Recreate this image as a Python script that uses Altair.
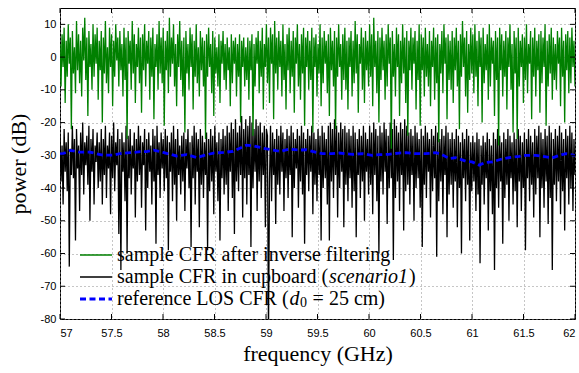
import altair as alt
import numpy as np
import pandas as pd

# ---- data ----
F_START, F_STOP = 57.0, 62.0

green_db = [
    4, -9, 7, -3, 9, -14, 5, -6, 10, -2, 6, -22, 8, -5, 3, -11, 11, -4, 7, -8,
    5, -12, 9, -1, 12, -7, 6, -18, 8, -3, 4, -10, 10, -6, 7, -2, 9, -13, 5, -4,
    8, -20, 6, -5, 11, -8, 3, -11, 9, -3, 7, -15, 5, -6, 10, -1, 6, -9, 8, -4,
    4, -12, 9, -7, 6, -25, 8, -2, 5, -10, 11, -5, 7, -14, 4, -3, 9, -8, 6, -17,
    7, -4, 10, -9, 5, -2, 8, -13, 6, -6, 9, -19, 4, -3, 7, -10, 11, -5, 6, -8,
    9, -21, 5, -4, 8, -11, 12, -6, 6, -2, 10, -9, 4, -15, 7, -3, 11, -7, 5, -12,
    6, -23, 8, -5, 4, -10, 9, -3, 7, -16, 5, -6, 10, -8, 3, -12, 8, -4, 6, -9,
    5, -25, 7, -6, 9, -3, 4, -11, 8, -18, 6, -5, 3, -9, 7, -14, 5, -2, 8, -7,
    4, -10, 6, -4, 3, -15, 7, -8, 5, -2, 6, -12, 4, -6, 7, -20, 5, -3, 6, -9,
    3, -7, 6, -13, 5, -4, 7, -24, 4, -9, 6, -2, 8, -11, 5, -6, 9, -16, 4, -3,
    10, -8, 6, -14, 9, -2, 7, -19, 11, -5, 6, -10, 8, -3, 5, -12, 10, -7, 4, -16,
    7, -4, 9, -11, 5, -6, 8, -17, 6, -2, 10, -9, 4, -13, 7, -5, 9, -21, 6, -3,
    8, -10, 5, -7, 9, -23, 6, -3, 7, -12, 4, -5, 10, -15, 6, -8, 8, -2, 5, -11,
    7, -18, 9, -4, 5, -9, 8, -22, 6, -6, 10, -3, 4, -13, 7, -7, 9, -10, 5, -16,
    6, -3, 8, -12, 5, -8, 11, -5, 7, -17, 4, -2, 9, -10, 6, -14, 8, -4, 5, -9,
    10, -6, 7, -15, 12, -3, 5, -11, 8, -20, 6, -7, 9, -4, 5, -13, 7, -9, 10, -2,
    6, -28, 8, -6, 4, -12, 9, -3, 7, -18, 5, -8, 10, -5, 6, -14, 8, -24, 5, -4,
    9, -10, 6, -2, 8, -16, 5, -7, 10, -21, 7, -4, 6, -12, 9, -6, 4, -9, 8, -15,
    5, -3, 9, -13, 6, -8, 7, -26, 4, -5, 8, -11, 10, -2, 6, -19, 7, -7, 5, -10,
    8, -14, 6, -4, 9, -9, 5, -22, 7, -6, 11, -3, 6, -12, 8, -17, 4, -7, 9, -5,
    7, -11, 10, -6, 5, -15, 8, -3, 6, -20, 9, -8, 4, -4, 7, -13, 10, -9, 6, -2,
    5, -18, 8, -7, 6, -27, 9, -4, 7, -12, 5, -6, 8, -16, 6, -3, 10, -10, 4, -23,
    8, -5, 6, -25, 9, -9, 5, -3, 7, -14, 6, -7, 10, -11, 4, -2, 8, -19, 6, -6,
    9, -12, 5, -4, 7, -17, 8, -8, 6, -3, 10, -21, 5, -9, 7, -5, 9, -13, 6, -7,
    4, -10, 8, -2, 6, -15, 9, -6, 5, -20, 7, -4, 8, -11, 6, -8, 9, -3, 5, -9,
]

black_db = [
    -24, -38, -27, -45, -22, -35, -26, -41, -23, -64, -28, -36, -21, -37, -25, -56, -22, -34, -27, -47,
    -23, -36, -20, -42, -26, -33, -24, -39, -21, -50, -25, -35, -22, -45, -27, -32, -23, -40, -26, -38,
    -22, -45, -25, -36, -21, -43, -27, -34, -23, -48, -24, -37, -20, -41, -26, -33, -22, -54, -25, -65,
    -23, -35, -26, -44, -21, -60, -24, -37, -22, -42, -27, -34, -23, -49, -25, -38, -21, -36, -24, -46,
    -26, -33, -22, -53, -25, -40, -23, -35, -27, -45, -22, -38, -24, -57, -21, -36, -26, -43, -23, -34,
    -25, -41, -22, -37, -24, -59, -26, -35, -23, -44, -21, -39, -25, -50, -22, -36, -27, -42, -24, -38,
    -23, -47, -25, -34, -22, -40, -26, -58, -24, -37, -21, -45, -23, -35, -25, -52, -22, -39, -24, -43,
    -26, -36, -23, -59, -25, -41, -22, -38, -24, -48, -21, -35, -26, -44, -23, -56, -25, -37, -22, -42,
    -24, -39, -21, -47, -23, -35, -20, -43, -22, -54, -19, -38, -23, -41, -21, -36, -18, -49, -22, -37,
    -19, -45, -21, -36, -18, -58, -20, -40, -22, -35, -19, -47, -21, -38, -20, -43, -23, -36, -21, -52,
    -22, -24, -85, -38, -21, -44, -23, -36, -25, -51, -22, -39, -24, -42, -21, -35, -23, -47, -25, -37,
    -22, -43, -24, -36, -21, -55, -23, -40, -25, -34, -22, -46, -24, -38, -21, -42, -23, -57, -25, -36,
    -22, -41, -24, -35, -21, -48, -23, -39, -25, -44, -22, -36, -24, -56, -21, -40, -23, -37, -25, -45,
    -21, -56, -20, -38, -22, -43, -19, -36, -21, -49, -23, -40, -20, -35, -22, -52, -21, -39, -23, -44,
    -22, -37, -24, -46, -21, -41, -23, -55, -25, -36, -22, -43, -24, -38, -21, -50, -23, -35, -25, -42,
    -21, -39, -23, -48, -20, -36, -22, -44, -24, -60, -21, -38, -23, -42, -20, -35, -22, -51, -24, -40,
    -20, -37, -22, -62, -19, -43, -21, -38, -23, -47, -20, -36, -22, -53, -19, -41, -21, -39, -23, -45,
    -22, -36, -24, -50, -21, -40, -23, -37, -25, -46, -22, -58, -24, -39, -21, -43, -23, -35, -25, -49,
    -22, -41, -24, -37, -21, -61, -23, -44, -25, -38, -22, -48, -24, -36, -21, -55, -23, -42, -25, -39,
    -23, -46, -25, -38, -22, -52, -24, -40, -26, -60, -23, -37, -25, -44, -22, -39, -24, -56, -26, -41,
    -24, -38, -26, -47, -23, -42, -25, -63, -27, -39, -24, -45, -26, -37, -23, -53, -25, -41, -27, -48,
    -23, -65, -25, -40, -22, -46, -24, -38, -26, -57, -23, -43, -25, -39, -22, -50, -24, -37, -26, -45,
    -23, -41, -25, -52, -22, -38, -24, -47, -26, -40, -23, -59, -25, -37, -22, -44, -24, -39, -26, -49,
    -22, -42, -24, -37, -21, -55, -23, -40, -25, -46, -22, -38, -24, -51, -21, -43, -23, -65, -25, -39,
    -22, -44, -24, -38, -21, -48, -23, -41, -25, -53, -22, -37, -24, -45, -21, -40, -23, -47, -25, -36,
]

ref_freq = [
    57.00, 57.03, 57.10, 57.19, 57.29, 57.42, 57.52, 57.58, 57.68, 57.78, 57.84, 57.91,
    58.00, 58.13, 58.23, 58.33, 58.39, 58.49, 58.59, 58.68, 58.81, 58.88, 58.97, 59.07,
    59.14, 59.23, 59.33, 59.39, 59.49, 59.55, 59.64, 59.71, 59.84, 59.94, 60.03, 60.10,
    60.19, 60.29, 60.36, 60.45, 60.55, 60.65, 60.71, 60.78, 60.84, 60.94, 61.00, 61.07,
    61.13, 61.20, 61.28, 61.36, 61.46, 61.52, 61.62, 61.72, 61.78, 61.85, 61.91, 62.00,
]
ref_db = [
    -29.6, -29.5, -28.5, -29.0, -29.0, -30.0, -29.9, -29.5, -29.2, -28.9, -28.9, -28.4,
    -29.1, -30.2, -29.8, -30.7, -30.1, -29.3, -29.1, -28.8, -26.9, -27.1, -27.8, -28.4,
    -28.8, -28.1, -28.4, -28.3, -29.1, -29.5, -29.5, -29.3, -29.7, -29.5, -30.0, -29.8,
    -29.7, -29.3, -29.2, -29.5, -29.5, -29.2, -29.8, -31.0, -30.7, -31.8, -32.0, -33.0,
    -32.2, -32.0, -31.2, -30.7, -30.3, -30.0, -30.0, -30.5, -30.8, -30.0, -29.5, -30.0,
]

series_names = ["green", "black", "ref"]
series_colors = ["#008000", "#000000", "#0000ff"]

# legend text pieces (upright / italic / subscript parts)
legend_row1 = ["sample CFR after inverse filtering"]
legend_row2 = ["sample CFR in cupboard (", "scenario1", ")"]
legend_row3 = ["reference LOS CFR (", "d", "0", "= 25 cm)"]

x_ticks = [57, 57.5, 58, 58.5, 59, 59.5, 60, 60.5, 61, 61.5, 62]
y_ticks = [-80, -70, -60, -50, -40, -30, -20, -10, 0, 10]

# ---- tables ----
df_green = pd.DataFrame({"f": np.linspace(F_START, F_STOP, len(green_db)),
                         "p": green_db, "series": series_names[0]})
df_black = pd.DataFrame({"f": np.linspace(F_START, F_STOP, len(black_db)),
                         "p": black_db, "series": series_names[1]})
df_ref = pd.DataFrame({"f": ref_freq, "p": ref_db, "series": series_names[2]})
df_xt = pd.DataFrame({"f": x_ticks})
df_yt = pd.DataFrame({"p": y_ticks})

W, H = 515, 311
SERIF = "Liberation Serif"
SANS = "Liberation Sans"
LFS = 20   # legend font size
SFS = 14   # subscript font size

xscale = alt.Scale(domain=[57, 62], nice=False, zero=False)
yscale = alt.Scale(domain=[-80, 15], nice=False, zero=False)

xaxis = alt.Axis(values=x_ticks, title="frequency (GHz)", labelExpr="'' + datum.value",
                 ticks=False, domain=False, labelPadding=8, titlePadding=5,
                 grid=True, gridDash=[1, 3], gridColor="#8c8c8c", gridOpacity=1)
yaxis = alt.Axis(values=y_ticks, title="power (dB)", labelExpr="'' + datum.value",
                 ticks=False, domain=False, labelPadding=4, titlePadding=10,
                 grid=True, gridDash=[1, 3], gridColor="#8c8c8c", gridOpacity=1)

color = alt.Color("series:N", legend=None,
                  scale=alt.Scale(domain=series_names, range=series_colors))
dash = alt.StrokeDash("series:N", legend=None,
                      scale=alt.Scale(domain=series_names, range=[[1, 0], [1, 0], [6, 3.5]]))

X = alt.X("f:Q", scale=xscale, axis=xaxis)
Y = alt.Y("p:Q", scale=yscale, axis=yaxis)


def line(df, width):
    return alt.Chart(df).mark_line(clip=True, strokeWidth=width).encode(
        x=X, y=Y, color=color, strokeDash=dash,
    )


bottom_ticks = alt.Chart(df_xt).mark_rule(color="black").encode(
    x=X, y=alt.value(H), y2=alt.value(H - 5))
top_ticks = alt.Chart(df_xt).mark_rule(color="black").encode(
    x=X, y=alt.value(0), y2=alt.value(5))
left_ticks = alt.Chart(df_yt).mark_rule(color="black").encode(
    y=Y, x=alt.value(0), x2=alt.value(5))
right_ticks = alt.Chart(df_yt).mark_rule(color="black").encode(
    y=Y, x=alt.value(W), x2=alt.value(W - 5))

# ---- hand-made legend (so that parts of the labels can be italic) ----
ROW_Y = [247, 269, 291]
SYM_X0, SYM_X1, TXT_X = 20, 52, 57


def legend_symbol(i, width, dash_pattern):
    return alt.Chart(pd.DataFrame({"s": [series_names[i]]})).mark_rule(
        color=series_colors[i], strokeWidth=width, strokeDash=dash_pattern
    ).encode(x=alt.value(SYM_X0), x2=alt.value(SYM_X1), y=alt.value(ROW_Y[i]))


def legend_text(txt, x, y, size=LFS, style="normal"):
    return alt.Chart(pd.DataFrame({"t": [txt]})).mark_text(
        font=SERIF, fontSize=size, fontStyle=style, color="black",
        align="left", baseline="middle",
    ).encode(text="t:N", x=alt.value(x), y=alt.value(y))


# advance widths from Times / Liberation Serif metrics (em units)
w_r2a = 10.555 * LFS   # "sample CFR in cupboard ("
w_r2b = 3.944 * LFS    # italic "scenario1"
w_r3a = 8.581 * LFS    # "reference LOS CFR ("
w_r3b = 0.5 * LFS      # italic "d"
w_r3c = 0.5 * SFS      # subscript "0"

legend_layers = [
    legend_symbol(0, 1.3, [1, 0]),
    legend_symbol(1, 1.3, [1, 0]),
    legend_symbol(2, 2.8, [6, 3.5]),
    legend_text(legend_row1[0], TXT_X, ROW_Y[0]),
    legend_text(legend_row2[0], TXT_X, ROW_Y[1]),
    legend_text(legend_row2[1], TXT_X + w_r2a + 1, ROW_Y[1], style="italic"),
    legend_text(legend_row2[2], TXT_X + w_r2a + w_r2b + 2, ROW_Y[1]),
    legend_text(legend_row3[0], TXT_X, ROW_Y[2]),
    legend_text(legend_row3[1], TXT_X + w_r3a + 1, ROW_Y[2], style="italic"),
    legend_text(legend_row3[2], TXT_X + w_r3a + w_r3b + 1.5, ROW_Y[2] + 4, size=SFS),
    legend_text(legend_row3[3], TXT_X + w_r3a + w_r3b + w_r3c + 7, ROW_Y[2]),
]

chart = alt.layer(
    line(df_black, 1.3), line(df_green, 1.3), line(df_ref, 2.8),
    bottom_ticks, top_ticks, left_ticks, right_ticks,
    *legend_layers,
).properties(
    width=W, height=H,
    autosize=alt.AutoSizeParams(type="none"),
    padding={"left": 60, "top": 8, "right": 4, "bottom": 54},
).configure_view(
    stroke="black", strokeWidth=1,
).configure_axis(
    labelFont=SANS, labelFontSize=11, labelColor="black",
    titleFont=SERIF, titleFontSize=22, titleFontWeight="normal", titleColor="black",
)

chart.save("out.html", embed_options={"renderer": "svg", "actions": False})
